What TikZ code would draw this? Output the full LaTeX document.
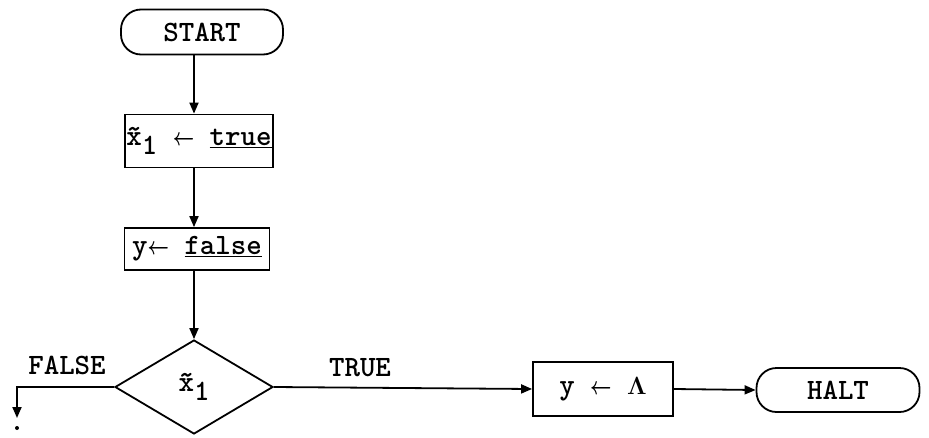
\documentclass[tikz,border=0pt]{standalone}
\usetikzlibrary{arrows.meta,shapes.geometric}
\newcommand{\xone}{\~{x}\raisebox{-0.32em}{1}}
\newcommand{\larr}{\scalebox{0.75}[1]{\boldmath$\leftarrow$}}
\begin{document}
\begin{tikzpicture}[x=1pt,y=-1pt,
  every node/.style={font=\fontsize{29.5}{33}\selectfont\ttfamily\bfseries, line width=1.8pt},
  term/.style={draw, rounded corners=20pt, minimum width=162pt, minimum height=45pt, inner sep=0pt},
  proc/.style={draw, inner sep=0pt},
  dec/.style={draw, diamond, minimum width=158pt, minimum height=94pt, inner sep=0pt},
  lbl/.style={inner sep=0pt},
  flow/.style={-{Triangle[length=11pt,width=9pt]}, line width=1.8pt}]
\useasboundingbox (0,0) rectangle (929,437);
\node[term] (start) at (202,32) {START};
\node[proc, minimum width=148pt, minimum height=53pt] (b1) at (199,141) {\xone{} \larr{} \underline{true}};
\node[proc, minimum width=145pt, minimum height=42pt] (b2) at (197,249) {y\larr{} \underline{false}};
\node[dec] (dia) at (194,387) {\xone};
\node[proc, minimum width=140pt, minimum height=54pt] (b3) at (603,389) {y \larr{} {\boldmath$\Lambda$}};
\node[term, minimum width=163pt, minimum height=44pt] (halt) at (838,390) {HALT};
\node[lbl] (tl) at (360,368) {TRUE};
\node[lbl] (fl) at (67,365) {FALSE};
\coordinate (fc) at (17,387);
\coordinate (fe) at (17,418);
\node[circle, fill, inner sep=0pt, minimum size=4pt] (dot) at (17,428) {};
\draw[flow] (start.south -| dia.north) -- (b1.north -| dia.north);
\draw[flow] (b1.south -| dia.north) -- (b2.north -| dia.north);
\draw[flow] (b2.south -| dia.north) -- (dia.north);
\draw[flow] (dia.east) -- (b3.west);
\draw[flow] (b3.east) -- (halt.west);
\draw[flow] (dia.west) -- (fc) -- (fe);
\end{tikzpicture}
\end{document}
